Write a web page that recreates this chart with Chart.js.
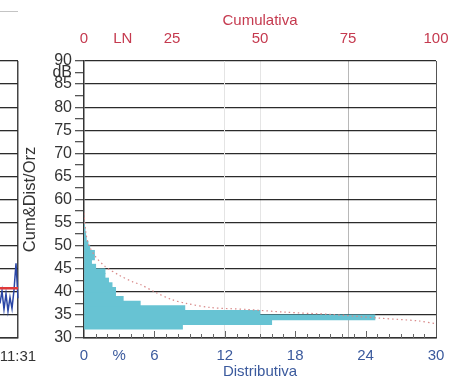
<!DOCTYPE html>
<html>
<head>
<meta charset="utf-8">
<script src="https://cdn.jsdelivr.net/npm/chart.js@4.4.1/dist/chart.umd.min.js"></script>
<style>
html, body { margin: 0; padding: 0; background: #fff; }
#wrap { position: relative; width: 450px; height: 381px; overflow: hidden; }
#trend, #dist { position: absolute; left: 0; top: 0; }
#legendRule { position: absolute; left: 0; top: 11px; width: 18px; border-top: 1px solid #c4c4c4; }
</style>
</head>
<body>
<div id="wrap">
  <div id="legendRule"></div>
  <canvas id="trend" width="60" height="381"></canvas>
  <canvas id="dist" width="450" height="381"></canvas>
</div>
<script>
// histogram: level bins (dB) and share of time (%)
const dbBins   = [33, 34, 35, 36, 37, 38, 39, 40, 41, 42, 43, 44, 45, 46, 47, 48, 49, 50, 51, 52, 53, 54, 55];
const distPct  = [8.4, 16, 24.8, 15, 8.6, 4.8, 3.35, 2.7, 2.7, 2.4, 2.1, 1.8, 1.8, 1.0, 0.65, 0.9, 0.9, 0.5, 0.35, 0.2, 0.15, 0.1, 0.05];

// cumulative curve (% of time exceeded vs level)
const cumPct = [0, 0.5, 1.2, 3.1, 6, 10, 14, 16, 20, 25, 29, 36, 46, 57, 70, 84, 95, 100];
const cumDb  = [57, 53, 50.5, 47.8, 45.5, 43.6, 42.1, 41.6, 40.0, 38.3, 37.5, 36.6, 36.2, 35.6, 35.1, 34.3, 33.7, 33.1];

// axis labels
const distTickValues = [0, 3, 6, 12, 18, 24, 30];
const distTickLabels = ['0', '%', '6', '12', '18', '24', '30'];
const cumTickValues  = [0, 11, 25, 50, 75, 100];
const cumTickLabels  = ['0', 'LN', '25', '50', '75', '100'];

// the trend panel on the left (only its right end is visible)
const trendTimes  = ['11:30:42', '11:30:44', '11:30:46', '11:30:48', '11:30:50', '11:30:52', '11:30:54', '11:30:56', '11:30:58', '11:31'];
const trendLevels = [37.5, 40.2, 36.2, 39.6, 35.8, 38.8, 36.4, 40.4, 46.2, 38.6];
const trendLimit  = [40.8, 40.8, 40.8, 40.8, 40.8, 40.8, 40.8, 40.8, 40.8, 40.8];

Chart.defaults.font.family = "'Liberation Sans', Arial, sans-serif";

const RED = '#c53a4f';
const BLUE = '#3b5a9d';
const GRID = '#2b2b2b';
const NONE = 'rgba(0,0,0,0)';

function tickVal(c) {
    return c.tick ? c.tick.value : null;
}

// small tick marks inside the plot along the bottom axis
const innerTicks = {
    id: 'innerTicks',
    afterDraw: function (chart) {
        const s = chart.scales.x;
        const ctx = chart.ctx;
        const b = chart.chartArea.bottom;
        ctx.save();
        ctx.strokeStyle = '#666';
        ctx.lineWidth = 1;
        s.ticks.forEach(t => {
            if (t.value === s.min || t.value === s.max) return;
            const px = Math.round(s.getPixelForValue(t.value)) + 0.5;
            const len = t.value % 6 === 0 ? 7 : 4;
            ctx.beginPath();
            ctx.moveTo(px, b);
            ctx.lineTo(px, b - len);
            ctx.stroke();
        });
        ctx.restore();
    }
};

// make the histogram bars exactly one bin tall, so they touch
const binHeight = {
    id: 'binHeight',
    beforeDatasetsUpdate: function (chart) {
        const y = chart.scales.y;
        const h = Math.abs(y.getPixelForValue(dbBins[1]) - y.getPixelForValue(dbBins[0]));
        chart.data.datasets[1].barThickness = h + 0.4;
    }
};

new Chart(document.getElementById('trend'), {
    type: 'line',
    data: {
        labels: trendTimes,
        datasets: [
            { data: trendLimit, borderColor: '#e03a3a', borderWidth: 2.5, pointRadius: 0, order: 0 },
            { data: trendLevels, borderColor: '#2a46a6', borderWidth: 1.5, pointRadius: 0, order: 1 }
        ]
    },
    options: {
        responsive: false,
        animation: false,
        layout: { padding: { left: 0, right: 42, top: 61, bottom: 0 } },
        plugins: { legend: { display: false }, tooltip: { enabled: false } },
        scales: {
            x: {
                type: 'category',
                grid: {
                    drawTicks: false,
                    lineWidth: 1.5,
                    color: c => c.index === trendTimes.length - 1 ? '#444' : NONE
                },
                border: { color: '#333', width: 1.5 },
                ticks: {
                    autoSkip: false, maxRotation: 0, color: '#333', font: { size: 15 }, padding: 10,
                    callback: (v, i) => i === trendTimes.length - 1 ? trendTimes[i] : ''
                },
                afterFit: s => { s.height = 43; s.paddingLeft = 0; }
            },
            y: {
                min: 30, max: 90,
                ticks: { display: false, stepSize: 5 },
                grid: { drawTicks: false, color: GRID, lineWidth: 1.3 },
                border: { display: false },
                afterFit: s => { s.width = 0; }
            }
        }
    }
});

new Chart(document.getElementById('dist'), {
    type: 'bar',
    data: {
        datasets: [
            {
                type: 'line',
                label: 'Cumulativa',
                data: cumPct.map((c, i) => ({ x: c, y: cumDb[i] })),
                xAxisID: 'xTop', yAxisID: 'y',
                borderColor: '#d98a8a', borderWidth: 1.2, borderDash: [1.5, 3],
                pointRadius: 0, tension: 0.3, order: 0
            },
            {
                type: 'bar',
                label: 'Distributiva',
                indexAxis: 'y',
                data: dbBins.map((d, i) => ({ x: distPct[i], y: d })),
                xAxisID: 'x', yAxisID: 'y',
                backgroundColor: '#67c3d3', borderWidth: 0,
                barPercentage: 1, categoryPercentage: 1, order: 1
            }
        ]
    },
    options: {
        responsive: false,
        animation: false,
        layout: { padding: { left: 20, top: 8, right: 14, bottom: 0 } },
        plugins: { legend: { display: false }, tooltip: { enabled: false } },
        scales: {
            y: {
                type: 'linear', position: 'left', min: 30, max: 90, z: 1, offset: false,
                ticks: {
                    stepSize: 2.5, autoSkip: false, color: '#333', font: { size: 16 }, padding: 3,
                    callback: v => v % 5 === 0 ? String(v) : (v === 87.5 ? 'dB' : '')
                },
                grid: {
                    offset: false,
                    color: c => tickVal(c) % 5 === 0 ? GRID : NONE,
                    lineWidth: 1.3, tickLength: 9, tickColor: '#555'
                },
                border: { color: '#333', width: 1.5 },
                title: { display: true, text: 'Cum&Dist/Orz', color: '#333', font: { size: 16.5 }, padding: { top: 1, bottom: 0 } },
                afterFit: s => { s.width = 64; }
            },
            x: {
                type: 'linear', position: 'bottom', min: 0, max: 30, offset: false,
                ticks: {
                    stepSize: 1, autoSkip: false, maxRotation: 0, color: BLUE, font: { size: 15 }, padding: 9,
                    callback: v => { const i = distTickValues.indexOf(v); return i < 0 ? '' : distTickLabels[i]; }
                },
                grid: {
                    offset: false, drawTicks: false, lineWidth: 1,
                    color: c => tickVal(c) === 12 ? '#e4e4e4' : (tickVal(c) === 30 ? '#555' : NONE)
                },
                border: { color: '#333', width: 1.5 },
                title: { display: true, text: 'Distributiva', color: BLUE, font: { size: 15 }, padding: { top: 0, bottom: 0 } },
                afterFit: s => { s.height = 43; s.paddingLeft = 0; s.paddingRight = 0; }
            },
            xTop: {
                type: 'linear', position: 'top', min: 0, max: 100, offset: false,
                afterBuildTicks: s => { s.ticks = cumTickValues.map(v => ({ value: v })); },
                ticks: {
                    autoSkip: false, maxRotation: 0, color: RED, font: { size: 15 }, padding: 13,
                    callback: v => { const i = cumTickValues.indexOf(v); return i < 0 ? '' : cumTickLabels[i]; }
                },
                grid: {
                    offset: false, drawTicks: false, lineWidth: 1,
                    color: c => tickVal(c) === 50 ? 'rgba(0,0,0,0.1)' : (tickVal(c) === 75 ? 'rgba(0,0,0,0.28)' : NONE)
                },
                border: { display: false },
                title: { display: true, text: 'Cumulativa', color: RED, font: { size: 15 }, padding: { top: 4, bottom: 0 } },
                afterFit: s => { s.height = 53; s.paddingLeft = 0; s.paddingRight = 0; }
            }
        }
    },
    plugins: [innerTicks, binHeight]
});
</script>
</body>
</html>
